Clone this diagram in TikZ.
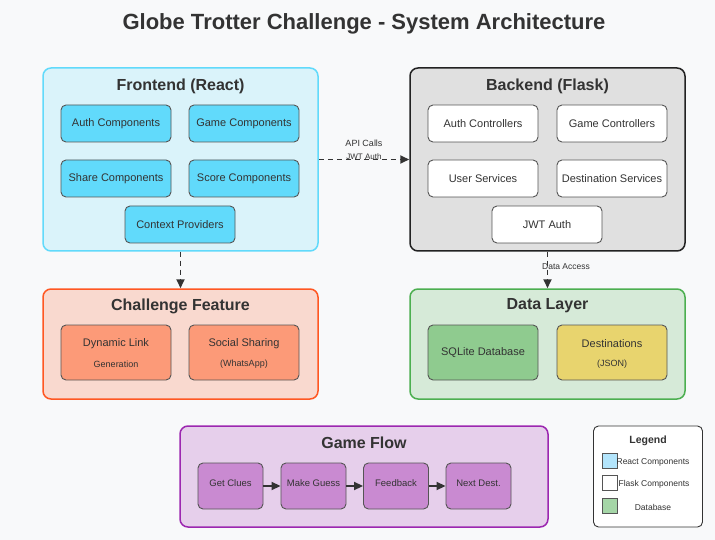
\documentclass[tikz,border=0pt]{standalone}
\usepackage{fontspec}
\setmainfont{Liberation Sans}
\usetikzlibrary{arrows.meta}
\definecolor{bg}{HTML}{F8F9FA}
\definecolor{txt}{HTML}{333333}
\definecolor{feFill}{HTML}{DAF3FA}
\definecolor{feLine}{HTML}{61DAFB}
\definecolor{feInner}{HTML}{61DAFB}
\definecolor{beFill}{HTML}{E0E0E0}
\definecolor{beLine}{HTML}{222222}
\definecolor{chFill}{HTML}{F9D9CF}
\definecolor{chLine}{HTML}{FF5722}
\definecolor{chInner}{HTML}{FC9A78}
\definecolor{dlFill}{HTML}{D6EAD8}
\definecolor{dlLine}{HTML}{4CAF50}
\definecolor{sqlFill}{HTML}{8FCB8F}
\definecolor{jsonFill}{HTML}{E8D46E}
\definecolor{gfFill}{HTML}{E6CFEB}
\definecolor{gfLine}{HTML}{9C27B0}
\definecolor{gfInner}{HTML}{C98AD1}
\definecolor{innerLine}{HTML}{555555}
\definecolor{legReact}{HTML}{B3E5FC}
\definecolor{legDb}{HTML}{A5D6A7}
\tikzset{
  container/.style={draw, line width=1.5pt, rounded corners=8pt, minimum width=275pt, minimum height=#1, inner sep=0pt},
  inner/.style={draw=innerLine, line width=0.9pt, rounded corners=5pt, minimum width=110pt, minimum height=37pt, inner sep=0pt, text=txt, font=\fontsize{11}{13}\selectfont},
  flowbox/.style={draw=innerLine, line width=0.9pt, rounded corners=5pt, fill=gfInner, minimum width=65pt, minimum height=46pt, inner sep=0pt},
  flowtxt/.style={text=txt, font=\fontsize{9.5}{11}\selectfont, inner sep=0pt},
  boxtitle/.style={text=txt, font=\fontsize{16}{18}\selectfont\bfseries, inner sep=0pt},
  smalltxt/.style={text=txt, font=\fontsize{9}{10}\selectfont, inner sep=0pt},
  conn/.style={draw=txt, line width=1.8pt, -{Triangle[length=9pt,width=8pt]}},
  dconn/.style={conn, dash pattern=on 5pt off 4pt},
  swatch/.style={draw=innerLine, line width=0.9pt, minimum width=15pt, minimum height=15pt, inner sep=0pt},
}
\begin{document}
\begin{tikzpicture}[x=1pt,y=-1pt]
\fill[bg] (0,0) rectangle (715,540);
\useasboundingbox (0,0) rectangle (715,540);

\node[text=txt, font=\fontsize{22}{26}\selectfont\bfseries] (title) at (364,24) {Globe Trotter Challenge - System Architecture};

% Frontend
\node[container=183pt, draw=feLine, fill=feFill] (fe) at (180.5,159.5) {};
\node[boxtitle] (feT) at (180.5,86) {Frontend (React)};
\node[inner, fill=feInner] (fe1) at (116,123.5) {\raisebox{-1pt}{Auth Components}};
\node[inner, fill=feInner] (fe2) at (244,123.5) {\raisebox{-1pt}{Game Components}};
\node[inner, fill=feInner] (fe3) at (116,178.5) {\raisebox{-1pt}{Share Components}};
\node[inner, fill=feInner] (fe4) at (244,178.5) {\raisebox{-1pt}{Score Components}};
\node[inner, fill=feInner] (fe5) at (180,224.5) {\raisebox{-1pt}{Context Providers}};

% Backend
\node[container=183pt, draw=beLine, fill=beFill] (be) at (547.5,159.5) {};
\node[boxtitle] (beT) at (547.5,86) {Backend (Flask)};
\node[inner, fill=white] (be1) at (483,123.5) {\raisebox{-1pt}{Auth Controllers}};
\node[inner, fill=white] (be2) at (612,123.5) {\raisebox{-1pt}{Game Controllers}};
\node[inner, fill=white] (be3) at (483,178.5) {\raisebox{-1pt}{User Services}};
\node[inner, fill=white] (be4) at (612,178.5) {\raisebox{-1pt}{Destination Services}};
\node[inner, fill=white] (be5) at (547,224.5) {\raisebox{-1pt}{JWT Auth}};

% Challenge
\node[container=110pt, draw=chLine, fill=chFill] (ch) at (180.5,344) {};
\node[boxtitle] (chT) at (180.5,306) {Challenge Feature};
\node[inner, fill=chInner, minimum height=55pt] (ch1) at (116,352.5) {};
\node[text=txt, font=\fontsize{11}{13}\selectfont, inner sep=0pt] (ch1a) at (116,344) {Dynamic Link};
\node[smalltxt] (ch1b) at (116,364) {Generation};
\node[inner, fill=chInner, minimum height=55pt] (ch2) at (244,352.5) {};
\node[text=txt, font=\fontsize{11}{13}\selectfont, inner sep=0pt] (ch2a) at (244,344) {Social Sharing};
\node[smalltxt] (ch2b) at (244,364) {(WhatsApp)};

% Data layer
\node[container=110pt, draw=dlLine, fill=dlFill] (dl) at (547.5,344) {};
\node[boxtitle] (dlT) at (547.5,306) {Data Layer};
\node[inner, fill=sqlFill, minimum height=55pt] (dl1) at (483,352.5) {\raisebox{-1pt}{SQLite Database}};
\node[inner, fill=jsonFill, minimum height=55pt] (dl2) at (612,352.5) {};
\node[text=txt, font=\fontsize{11}{13}\selectfont, inner sep=0pt] (dl2a) at (612,344) {Destinations};
\node[smalltxt] (dl2b) at (612,364) {(JSON)};

% Game flow
\node[draw=gfLine, fill=gfFill, line width=1.5pt, rounded corners=8pt, minimum width=368pt, minimum height=101pt, inner sep=0pt] (gf) at (364,476.5) {};
\node[boxtitle] (gfT) at (364,443) {Game Flow};
\node[flowbox] (g1) at (230.5,486) {};
\node[flowbox] (g2) at (313.5,486) {};
\node[flowbox] (g3) at (396,486) {};
\node[flowbox] (g4) at (478.5,486) {};
\node[flowtxt] (g1t) at (230.5,483) {Get Clues};
\node[flowtxt] (g2t) at (313.5,483) {Make Guess};
\node[flowtxt] (g3t) at (396,483) {Feedback};
\node[flowtxt] (g4t) at (478.5,483) {Next Dest.};
\draw[conn] (g1.east) -- (g2.west);
\draw[conn] (g2.east) -- (g3.west);
\draw[conn] (g3.east) -- (g4.west);

% Connectors
\draw[dconn] (fe.east) -- (be.west);
\node[smalltxt] (apiL) at (364,143) {API Calls};
\node[smalltxt, font=\fontsize{8}{9}\selectfont] (jwtL) at (364,157) {JWT Auth};
\draw[dconn] (fe.south) -- (ch.north);
\draw[dconn] (be.south) -- (dl.north);
\node[smalltxt, font=\fontsize{8.5}{9}\selectfont] (daL) at (566,267) {Data Access};

% Legend
\node[draw=txt, fill=white, line width=0.9pt, rounded corners=5pt, minimum width=109pt, minimum height=101pt, inner sep=0pt] (leg) at (648,476.5) {};
\node[text=txt, font=\fontsize{10.5}{12}\selectfont\bfseries, inner sep=0pt] (legT) at (648,441) {Legend};
\node[swatch, fill=legReact] (s1) at (609.5,460.5) {};
\node[swatch, fill=white] (s2) at (609.5,483) {};
\node[swatch, fill=legDb] (s3) at (609.5,506) {};
\node[smalltxt, font=\fontsize{8.5}{10}\selectfont] (l1) at (653,462) {React Components};
\node[smalltxt, font=\fontsize{8.5}{10}\selectfont] (l2) at (654,484.5) {Flask Components};
\node[smalltxt, font=\fontsize{8.5}{10}\selectfont] (l3) at (653,507.5) {Database};
\end{tikzpicture}
\end{document}
